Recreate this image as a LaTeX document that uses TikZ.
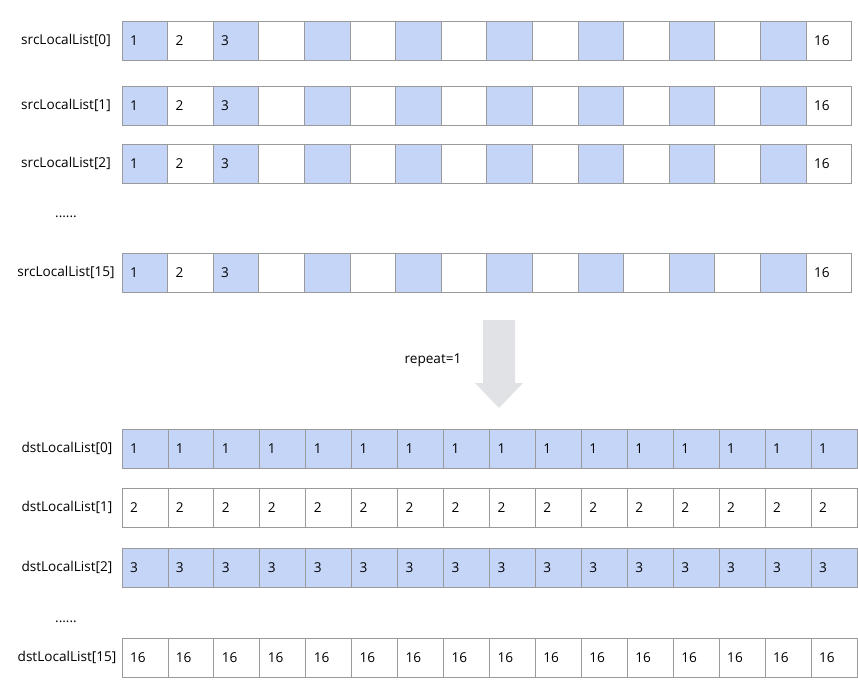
\documentclass[tikz,border=0pt]{standalone}
\usepackage{fontspec}
\setmainfont{Open Sans}
\usepackage{tikz}
\usetikzlibrary{positioning}
\definecolor{cellblue}{HTML}{C5D5F8}
\definecolor{cellborder}{HTML}{9A9A9A}
\definecolor{arrowgray}{HTML}{E1E2E6}

\begin{document}
\begin{tikzpicture}[
    x=1pt, y=-1pt,
    font=\fontsize{13.6}{16}\selectfont,
    cell/.style={rectangle, draw=cellborder, line width=0.8pt, minimum height=39.5pt,
        inner xsep=8pt, inner ysep=0pt, outer sep=0pt, align=left, anchor=north west},
    srccell/.style={cell, minimum width=45.6pt, text width=29.6pt},
    dstcell/.style={cell, minimum width=45.94pt, text width=29.94pt},
    listname/.style={anchor=center}
]
    \useasboundingbox (0,0) rectangle (858,699);
    % --- 1. Source lists (Top Block) ---
    \foreach \r/\top in {0/21, 1/86, 2/144, 15/253} {
        \foreach \i in {1,...,16} {
            \ifodd\i \def\f{cellblue}\else \def\f{white}\fi
            \ifnum\i<4 \def\t{\i}\else \ifnum\i=16 \def\t{16}\else \def\t{}\fi\fi
            \node (s\r-\i) [srccell, fill=\f] at ({122+(\i-1)*45.6}, \top) {\t};
        }
        \node (s\r) [listname] at (66,0 |- s\r-1.west) {srcLocalList[\r]};
    }
    \node (sdots) [listname] at (66,217) {......};
    % --- 2. Repeat Arrow ---
    \fill[arrowgray] (483,320) -- (515,320) -- (515,383) -- (523,383) -- (499,408)
        -- (475,383) -- (483,383) -- cycle;
    \node (rep) at (433,360) {repeat=1};
    % --- 3. Destination lists (Bottom Block) ---
    \foreach \r/\top/\v/\f in {0/429/1/cellblue, 1/488/2/white, 2/548/3/cellblue, 15/638/16/white} {
        \foreach \i in {1,...,16} {
            \node (d\r-\i) [dstcell, fill=\f] at ({122+(\i-1)*45.94}, \top) {\v};
        }
        \node (d\r) [listname] at (67,0 |- d\r-1.west) {dstLocalList[\r]};
    }
    \node (ddots) [listname] at (66,622) {......};
\end{tikzpicture}
\end{document}
